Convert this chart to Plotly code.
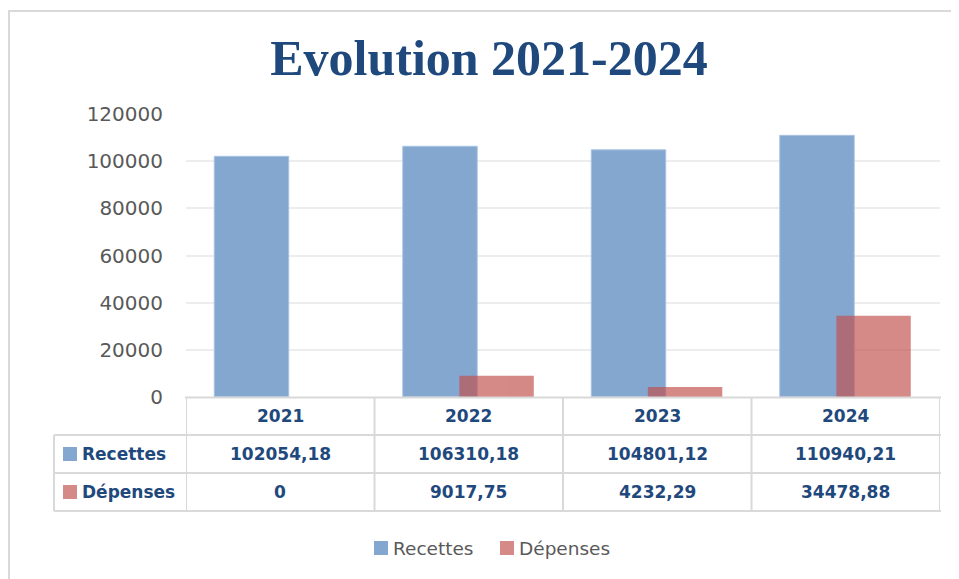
import plotly.graph_objects as go

years = ["2021", "2022", "2023", "2024"]
recettes = [102054.18, 106310.18, 104801.12, 110940.21]
depenses = [0, 9017.75, 4232.29, 34478.88]
recettes_txt = ["102054,18", "106310,18", "104801,12", "110940,21"]
depenses_txt = ["0", "9017,75", "4232,29", "34478,88"]
y_ticks = [0, 20000, 40000, 60000, 80000, 100000, 120000]

OFF = 8  # page body margin
W, H = 959, 579
L, R, T, B = 186 - OFF, 940 - OFF, 114 - OFF, 397 - OFF  # plot area in figure pixels
pw, ph = R - L, B - T

def px(x):
    # x given in screenshot pixels
    return (x - OFF - L) / pw

def py(y):
    return (B - (y - OFF)) / ph

BLUE = "#84A7D0"
RED = "#C0504D"
RED_T = "rgba(192,80,77,0.67)"
NAVY = "#1F497D"
GRID = "#D9D9D9"

fig = go.Figure()
fig.add_trace(go.Bar(
    x=years, y=recettes, name="Recettes",
    marker=dict(color=BLUE, line=dict(color="#A9C2E2", width=1)),
    width=0.395, offset=-0.35,
))
fig.add_trace(go.Bar(
    x=years, y=depenses, name="Dépenses",
    marker=dict(color=RED, line=dict(width=0)),
    opacity=0.67,
    width=0.395, offset=-0.05,
))

shapes = []
ann = []
line = dict(color=GRID, width=2)
# horizontal table lines
shapes.append(dict(type="line", xref="paper", yref="paper", x0=px(185), x1=px(941), y0=py(397.5), y1=py(397.5), line=line))
for yy in [435, 473, 511]:
    shapes.append(dict(type="line", xref="paper", yref="paper", x0=px(54), x1=px(941), y0=py(yy), y1=py(yy), line=line))
# vertical table lines
for i in range(len(years) + 1):
    shapes.append(dict(type="line", xref="x", yref="paper", x0=i - 0.5, x1=i - 0.5, y0=py(397), y1=py(511), line=line))
shapes.append(dict(type="line", xref="paper", yref="paper", x0=px(54), x1=px(54), y0=py(435), y1=py(511), line=line))
# outer chart border
shapes.append(dict(type="rect", xref="paper", yref="paper", x0=px(9), x1=px(1000), y0=py(11), y1=py(620),
                   line=dict(color="#D9D9D9", width=2), layer="below"))
# row label swatches
shapes.append(dict(type="rect", xref="paper", yref="paper", x0=px(63), x1=px(77), y0=py(447), y1=py(461),
                   fillcolor=BLUE, line=dict(width=0)))
shapes.append(dict(type="rect", xref="paper", yref="paper", x0=px(63), x1=px(77), y0=py(485), y1=py(499),
                   fillcolor=RED_T, line=dict(width=0)))
# legend swatches
shapes.append(dict(type="rect", xref="paper", yref="paper", x0=px(374), x1=px(388), y0=py(541), y1=py(555),
                   fillcolor=BLUE, line=dict(width=0)))
shapes.append(dict(type="rect", xref="paper", yref="paper", x0=px(500), x1=px(514), y0=py(541), y1=py(555),
                   fillcolor=RED_T, line=dict(width=0)))

tfont = dict(family="DejaVu Sans", size=17, color=NAVY)
for i, yr in enumerate(years):
    ann.append(dict(x=i, xref="x", y=py(416), yref="paper", text="<b>%s</b>" % yr, showarrow=False,
                    xanchor="center", yanchor="middle", font=tfont))
    ann.append(dict(x=i, xref="x", y=py(454), yref="paper", text="<b>%s</b>" % recettes_txt[i], showarrow=False,
                    xanchor="center", yanchor="middle", font=tfont))
    ann.append(dict(x=i, xref="x", y=py(492), yref="paper", text="<b>%s</b>" % depenses_txt[i], showarrow=False,
                    xanchor="center", yanchor="middle", font=tfont))
ann.append(dict(x=px(80), xref="paper", y=py(454), yref="paper", text="<b>Recettes</b>", showarrow=False,
                xanchor="left", yanchor="middle", font=tfont))
ann.append(dict(x=px(80), xref="paper", y=py(492), yref="paper", text="<b>Dépenses</b>", showarrow=False,
                xanchor="left", yanchor="middle", font=tfont))
lfont = dict(family="DejaVu Sans", size=18.5, color="#595959")
ann.append(dict(x=px(391), xref="paper", y=py(548), yref="paper", text="Recettes", showarrow=False,
                xanchor="left", yanchor="middle", font=lfont))
ann.append(dict(x=px(517), xref="paper", y=py(548), yref="paper", text="Dépenses", showarrow=False,
                xanchor="left", yanchor="middle", font=lfont))

fig.update_layout(
    width=W, height=H,
    margin=dict(l=L, r=W - R, t=T, b=H - B, pad=0),
    paper_bgcolor="white", plot_bgcolor="white",
    barmode="overlay",
    title=dict(text="<b>Evolution 2021-2024</b>", x=(489 - OFF) / W, xanchor="center",
               y=1 - (57 - OFF) / H, yanchor="middle",
               font=dict(family="Liberation Serif", size=50, color=NAVY)),
    xaxis=dict(type="category", range=[-0.5, 3.5], showticklabels=False, showgrid=False,
               zeroline=False, showline=False, fixedrange=True),
    yaxis=dict(range=[0, 120000], tickvals=y_ticks, ticktext=[str(v) for v in y_ticks],
               showgrid=True, gridcolor="#EDEDED", gridwidth=2, zeroline=False, showline=False,
               tickfont=dict(family="DejaVu Sans", size=20, color="#595959"),
               ticklabelstandoff=22, fixedrange=True),
    showlegend=False,
    shapes=shapes,
    annotations=ann,
)

fig.write_html("out.html")
